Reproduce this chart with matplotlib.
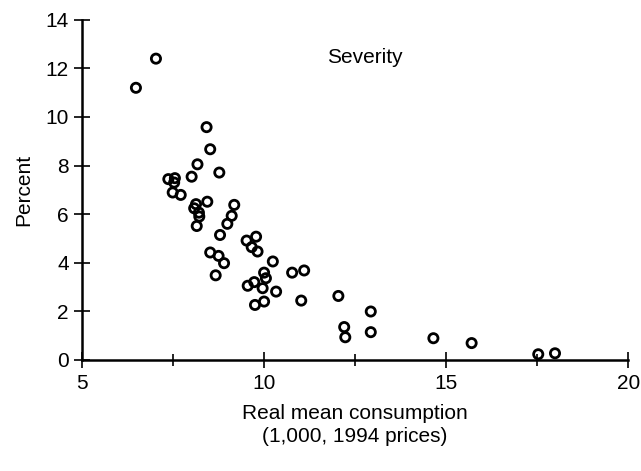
import matplotlib
matplotlib.use("Agg")
import matplotlib.pyplot as plt

# Data (real mean consumption, severity percent)
consumption = [6.48, 7.03, 8.42, 8.52, 8.17, 8.77, 7.37, 7.55, 7.53, 8.01,
               7.49, 7.71, 8.44, 8.13, 8.08, 8.21, 8.22, 8.15, 9.18, 9.11,
               8.99, 8.79, 9.52, 9.78, 9.66, 9.82, 8.52, 8.75, 8.90, 10.24,
               8.67, 10.00, 10.05, 10.77, 11.10, 9.55, 9.73, 9.96, 10.33, 9.75,
               10.00, 11.02, 12.04, 12.93, 12.20, 12.23, 12.93, 14.65, 15.70, 17.53,
               17.99]
severity = [11.2, 12.4, 9.58, 8.67, 8.05, 7.71, 7.44, 7.48, 7.30, 7.54,
            6.89, 6.79, 6.51, 6.41, 6.24, 6.06, 5.90, 5.51, 6.38, 5.93,
            5.60, 5.14, 4.91, 5.07, 4.64, 4.46, 4.42, 4.28, 3.98, 4.05,
            3.48, 3.59, 3.36, 3.59, 3.68, 3.05, 3.20, 2.95, 2.81, 2.26,
            2.40, 2.44, 2.63, 1.99, 1.35, 0.93, 1.14, 0.89, 0.69, 0.23,
            0.27]

x_ticks = [5, 10, 15, 20]
x_minor = [7.5, 12.5, 17.5]
y_ticks = [0, 2, 4, 6, 8, 10, 12, 14]

plt.rcParams['font.family'] = ['Liberation Sans', 'DejaVu Sans']

fig = plt.figure(figsize=(6.41, 4.71), dpi=100)
ax = fig.add_axes([0.128, 0.236, 0.852, 0.722])

ax.scatter(consumption, severity, s=44, facecolors='none', edgecolors='black',
           linewidths=2.0, zorder=3, clip_on=False)

ax.set_xlim(5, 20)
ax.set_ylim(0, 14)
ax.set_xticks(x_ticks)
ax.set_xticks(x_minor, minor=True)
ax.set_yticks(y_ticks)
ax.tick_params(axis='both', which='major', direction='inout', length=12,
               width=1.2, labelsize=15, color='black')
ax.tick_params(axis='x', which='minor', direction='inout', length=9, width=1.2)
ax.tick_params(axis='x', which='major', pad=4)

for s in ['top', 'right']:
    ax.spines[s].set_visible(False)
for s in ['left', 'bottom']:
    ax.spines[s].set_linewidth(1.8)

ax.set_xlabel("Real mean consumption\n(1,000, 1994 prices)", fontsize=15,
              linespacing=1.3, labelpad=8)
ax.set_ylabel("Percent", fontsize=15, labelpad=9)
ax.text(0.517, 0.89, "Severity", transform=ax.transAxes, fontsize=15,
        ha='center', va='center')

fig.savefig("out.png", dpi=100)
